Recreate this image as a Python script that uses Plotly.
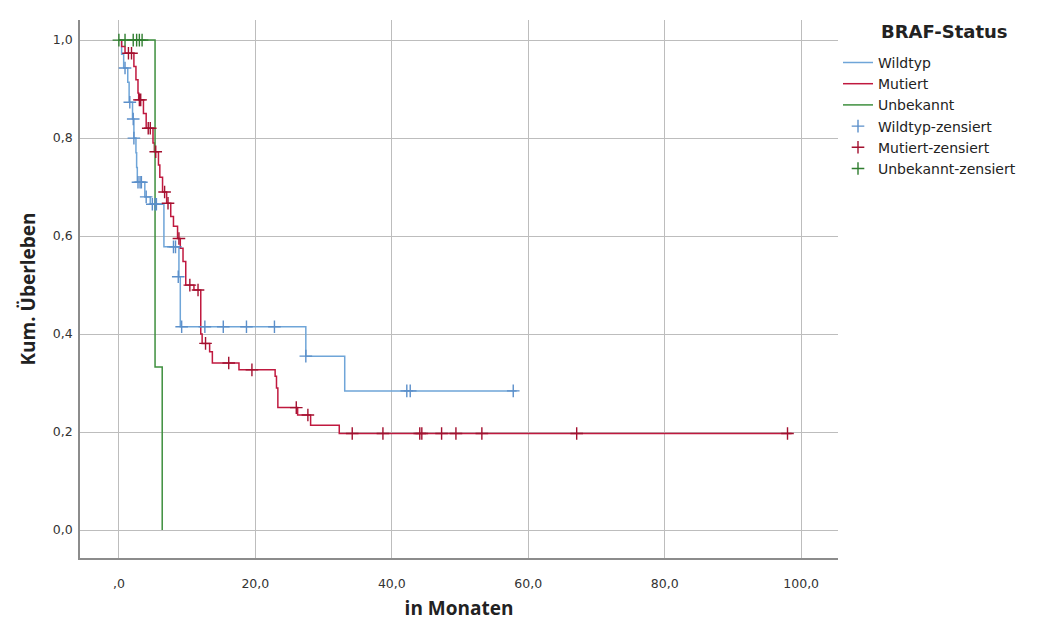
import plotly.graph_objects as go

# ---- Data ----
# Wildtyp: event times (months) and survival after each step
wt_times = [0.4, 0.7, 1.3, 1.5, 2.0, 2.2, 2.5, 2.6, 2.7, 3.8, 4.6, 6.6, 8.8, 9.0, 27.4, 33.1]
wt_surv = [0.971, 0.943, 0.914, 0.873, 0.839, 0.800, 0.770, 0.740, 0.710, 0.680, 0.665, 0.578, 0.517, 0.415, 0.355, 0.284]
wt_end = 58.3
wt_cens_t = [0.9, 1.6, 2.1, 2.2, 2.8, 3.1, 3.3, 4.0, 4.9, 5.3, 5.5, 8.0, 8.3, 8.7, 9.2, 12.6, 15.3, 18.7, 22.8, 27.4, 42.2, 42.7, 57.8]
wt_cens_s = [0.943, 0.873, 0.839, 0.800, 0.710, 0.710, 0.710, 0.680, 0.665, 0.665, 0.665, 0.578, 0.578, 0.517, 0.415, 0.415, 0.415, 0.415, 0.415, 0.355, 0.284, 0.284, 0.284]

# Mutiert
mu_times = [0.4, 0.9, 2.2, 2.5, 2.8, 2.9, 3.6, 4.0, 5.0, 5.2, 5.8, 6.0, 6.4, 7.0, 7.6, 8.0, 8.6, 9.0, 9.4, 9.8, 11.0, 12.0, 12.2, 13.3, 13.7, 17.6, 22.9, 23.1, 23.3, 26.2, 28.1, 32.3]
mu_surv = [0.987, 0.973, 0.946, 0.919, 0.892, 0.878, 0.850, 0.820, 0.790, 0.772, 0.745, 0.720, 0.690, 0.667, 0.640, 0.620, 0.595, 0.575, 0.548, 0.500, 0.490, 0.400, 0.381, 0.364, 0.341, 0.327, 0.314, 0.290, 0.250, 0.235, 0.214, 0.197]
mu_end = 98.6
mu_cens_t = [1.4, 1.85, 3.0, 3.2, 4.3, 4.6, 5.4, 6.7, 7.2, 8.8, 10.4, 11.6, 12.7, 16.1, 19.5, 26.0, 27.7, 34.2, 38.7, 44.1, 44.4, 47.3, 49.4, 53.2, 67.1, 98.0]
mu_cens_s = [0.973, 0.973, 0.878, 0.878, 0.820, 0.820, 0.772, 0.690, 0.667, 0.595, 0.500, 0.490, 0.381, 0.341, 0.327, 0.250, 0.235, 0.197, 0.197, 0.197, 0.197, 0.197, 0.197, 0.197, 0.197, 0.197]

# Unbekannt
un_times = [5.3, 6.35]
un_surv = [0.333, 0.0]
un_end = 6.35
un_cens_t = [0.0, 0.9, 2.1, 2.6, 3.0, 3.4]
un_cens_s = [1.0, 1.0, 1.0, 1.0, 1.0, 1.0]

x_tickvals = [0, 20, 40, 60, 80, 100]
x_ticktext = [",0", "20,0", "40,0", "60,0", "80,0", "100,0"]
y_tickvals = [0, 0.2, 0.4, 0.6, 0.8, 1.0]
y_ticktext = ["0,0", "0,2", "0,4", "0,6", "0,8", "1,0"]

C_WT = "#6fa5d8"
C_MU = "#c0193f"
C_UN = "#3e8f3e"
C_WT_M = "#5b8fca"
C_MU_M = "#a3102f"
C_UN_M = "#2f7d2f"

def curve(times, surv, end):
    xs = [0] + list(times) + [end]
    ys = [1.0] + list(surv) + [surv[-1]]
    return xs, ys

fig = go.Figure()
for name, t, s, e, c in [("Wildtyp", wt_times, wt_surv, wt_end, C_WT),
                         ("Mutiert", mu_times, mu_surv, mu_end, C_MU),
                         ("Unbekannt", un_times, un_surv, un_end, C_UN)]:
    xs, ys = curve(t, s, e)
    fig.add_trace(go.Scatter(x=xs, y=ys, mode="lines", name=name,
                             line=dict(color=c, width=1.5, shape="hv")))

for name, t, s, c in [("Wildtyp-zensiert", wt_cens_t, wt_cens_s, C_WT_M),
                      ("Mutiert-zensiert", mu_cens_t, mu_cens_s, C_MU_M),
                      ("Unbekannt-zensiert", un_cens_t, un_cens_s, C_UN_M)]:
    fig.add_trace(go.Scatter(x=t, y=s, mode="markers", name=name,
                             marker=dict(symbol="cross-thin", size=9,
                                         line=dict(color=c, width=1.4))))

font_fam = "DejaVu Sans, sans-serif"
title_fam = "Open Sans, DejaVu Sans, sans-serif"
fig.update_layout(
    width=1051, height=621,
    margin=dict(l=80, r=213, t=20, b=63, autoexpand=False),
    paper_bgcolor="white", plot_bgcolor="white",
    font=dict(family=font_fam, color="#333333", size=12.5),
    showlegend=True,
    legend=dict(x=1.0, y=0.950, xanchor="left", yanchor="top",
                font=dict(size=14, color="#222222"),
                tracegroupgap=0, itemwidth=30,
                bgcolor="rgba(0,0,0,0)"),
    annotations=[dict(text="<b>BRAF-Status</b>", xref="paper", yref="paper",
                      x=(944 - 80) / 758, y=(558 - 32) / 538,
                      xanchor="center", yanchor="middle", showarrow=False,
                      font=dict(family=font_fam, size=18, color="#222222"))],
    xaxis=dict(range=[-5.7, 105.4], tickvals=x_tickvals, ticktext=x_ticktext,
               showgrid=True, gridcolor="#bdbdbd", gridwidth=1,
               zeroline=False, showline=True, linecolor="#8c8c8c", linewidth=1.5,
               ticks="", ticklabelstandoff=13, automargin=False,
               tickfont=dict(size=12.5, color="#333333"),
               title=dict(text="<b>in Monaten</b>",
                          font=dict(family=title_fam, size=19, color="#222222"),
                          standoff=12)),
    yaxis=dict(range=[-0.057, 1.041], tickvals=y_tickvals, ticktext=y_ticktext,
               showgrid=True, gridcolor="#bdbdbd", gridwidth=1,
               zeroline=False, showline=True, linecolor="#8c8c8c", linewidth=1.5,
               ticks="", ticklabelstandoff=3, automargin=False,
               tickfont=dict(size=12.5, color="#333333"),
               title=dict(text="<b>Kum. Überleben</b>",
                          font=dict(family=title_fam, size=19, color="#222222"),
                          standoff=12)),
)

fig.write_html("out.html", config={"displayModeBar": False},
               post_script="document.body.style.margin='0';")
